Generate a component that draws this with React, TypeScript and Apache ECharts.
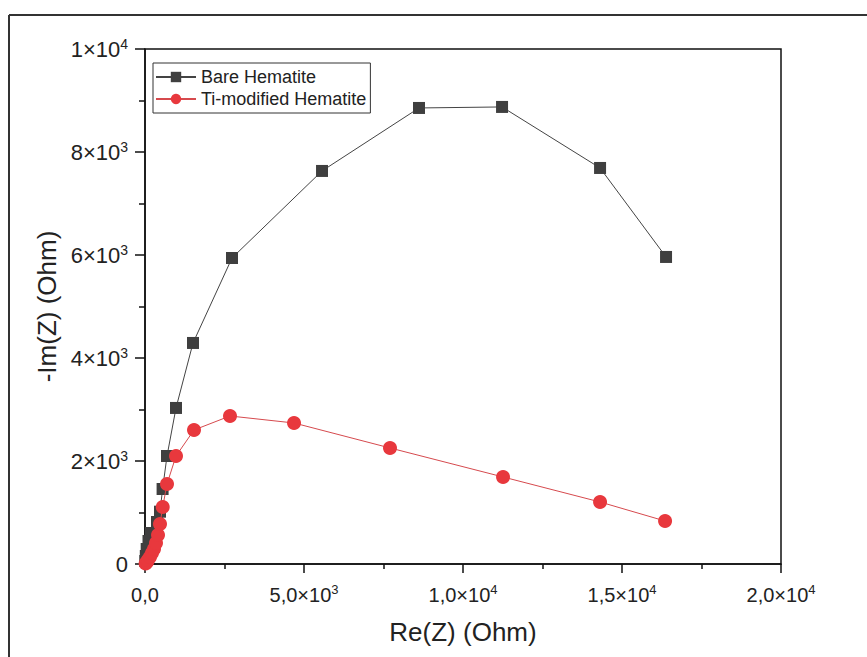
import React, { useEffect, useRef } from "react";
import * as echarts from "echarts";

const bareHematite: [number, number][] = [
  [9, 58], [25, 155], [53, 291], [110, 447], [189, 602], [377, 816], [472, 1016],
  [553, 1456], [692, 2097], [975, 3030], [1510, 4292], [2736, 5942], [5567, 7632],
  [8617, 8855], [11228, 8875], [14310, 7690], [16385, 5962],
];

const tiHematite: [number, number][] = [
  [20, 10], [63, 39], [94, 78], [157, 136], [220, 214], [283, 291], [346, 408],
  [409, 563], [472, 777], [557, 1107], [692, 1554], [975, 2097], [1541, 2602],
  [2673, 2874], [4686, 2738], [7705, 2253], [11259, 1690], [14310, 1204], [16354, 835],
];

const xTickLabels: Record<number, string> = {
  0: "{n|0,0}",
  5000: "{n|5,0×10}{s|3}",
  10000: "{n|1,0×10}{s|4}",
  15000: "{n|1,5×10}{s|4}",
  20000: "{n|2,0×10}{s|4}",
};

const yTickLabels: Record<number, string> = {
  0: "{n|0}",
  2000: "{n|2×10}{s|3}",
  4000: "{n|4×10}{s|3}",
  6000: "{n|6×10}{s|3}",
  8000: "{n|8×10}{s|3}",
  10000: "{n|1×10}{s|4}",
};

const FONT = "Liberation Sans";

export default function App() {
  const ref = useRef<HTMLDivElement>(null);
  useEffect(() => {
    if (!ref.current) return;
    const chart = echarts.init(ref.current, undefined, { renderer: "svg" });
    const richX = {
      n: { fontSize: 20, lineHeight: 23, fontFamily: FONT, color: "#222" },
      s: { fontSize: 13, lineHeight: 13, verticalAlign: "top", fontFamily: FONT, color: "#222" },
    };
    const richY = {
      n: { fontSize: 22, lineHeight: 25, fontFamily: FONT, color: "#222" },
      s: { fontSize: 14, lineHeight: 14, verticalAlign: "top", fontFamily: FONT, color: "#222" },
    };
    chart.setOption({
      animation: false,
      backgroundColor: "#fff",
      textStyle: { fontFamily: FONT },
      grid: {
        left: 145, top: 49, right: 86, bottom: 93,
        show: true, borderColor: "#111", borderWidth: 1.5, backgroundColor: "transparent",
      },
      legend: {
        orient: "vertical",
        left: 153,
        top: 63,
        padding: [5, 4, 5, 2],
        borderColor: "#333",
        borderWidth: 1,
        itemWidth: 40,
        itemHeight: 13,
        itemGap: 4,
        textStyle: { fontSize: 18, lineHeight: 18, color: "#222", fontFamily: FONT },
        data: ["Bare Hematite", "Ti-modified Hematite"],
      },
      xAxis: {
        type: "value",
        min: 0,
        max: 20000,
        interval: 5000,
        name: "Re(Z) (Ohm)",
        nameLocation: "middle",
        nameGap: 55,
        nameTextStyle: { fontSize: 26, color: "#222", fontFamily: FONT },
        axisLine: { onZero: false, lineStyle: { color: "#111", width: 1.5 } },
        axisTick: { show: true, inside: false, length: 9, lineStyle: { color: "#111", width: 1.5 } },
        minorTick: { show: true, splitNumber: 2, length: 5, lineStyle: { color: "#111", width: 1.5 } },
        splitLine: { show: false },
        axisLabel: {
          margin: 19,
          fontSize: 20,
          fontFamily: FONT,
          color: "#222",
          formatter: (v: number) => xTickLabels[v] ?? "",
          rich: richX,
        },
      },
      yAxis: {
        type: "value",
        min: 0,
        max: 10000,
        interval: 2000,
        name: "-Im(Z) (Ohm)",
        nameLocation: "middle",
        nameGap: 82,
        nameTextStyle: { fontSize: 26, color: "#222", fontFamily: FONT },
        axisLine: { onZero: false, lineStyle: { color: "#111", width: 1.5 } },
        axisTick: { show: true, inside: false, length: 10, lineStyle: { color: "#111", width: 1.5 } },
        minorTick: { show: true, splitNumber: 2, length: 6, lineStyle: { color: "#111", width: 1.5 } },
        splitLine: { show: false },
        axisLabel: {
          margin: 17,
          fontSize: 22,
          fontFamily: FONT,
          color: "#222",
          formatter: (v: number) => yTickLabels[v] ?? "",
          rich: richY,
        },
      },
      series: [
        {
          name: "Bare Hematite",
          type: "line",
          data: bareHematite,
          symbol: "rect",
          symbolSize: 12,
          itemStyle: { color: "#3f3f3f" },
          lineStyle: { color: "#444", width: 1 },
          z: 2,
        },
        {
          name: "Ti-modified Hematite",
          type: "line",
          data: tiHematite,
          symbol: "circle",
          symbolSize: 14,
          itemStyle: { color: "#e8383d" },
          lineStyle: { color: "#d64a4e", width: 1 },
          z: 3,
        },
      ],
      graphic: [
        { type: "line", shape: { x1: 9, y1: 15, x2: 9, y2: 657 }, style: { stroke: "#333", lineWidth: 2 } },
        { type: "line", shape: { x1: 9, y1: 15, x2: 867, y2: 15 }, style: { stroke: "#333", lineWidth: 2 } },
      ],
    });
    return () => chart.dispose();
  }, []);
  return (
    <div
      ref={ref}
      style={{ position: "fixed", left: 0, top: 0, width: 867, height: 657, background: "#fff" }}
    />
  );
}
